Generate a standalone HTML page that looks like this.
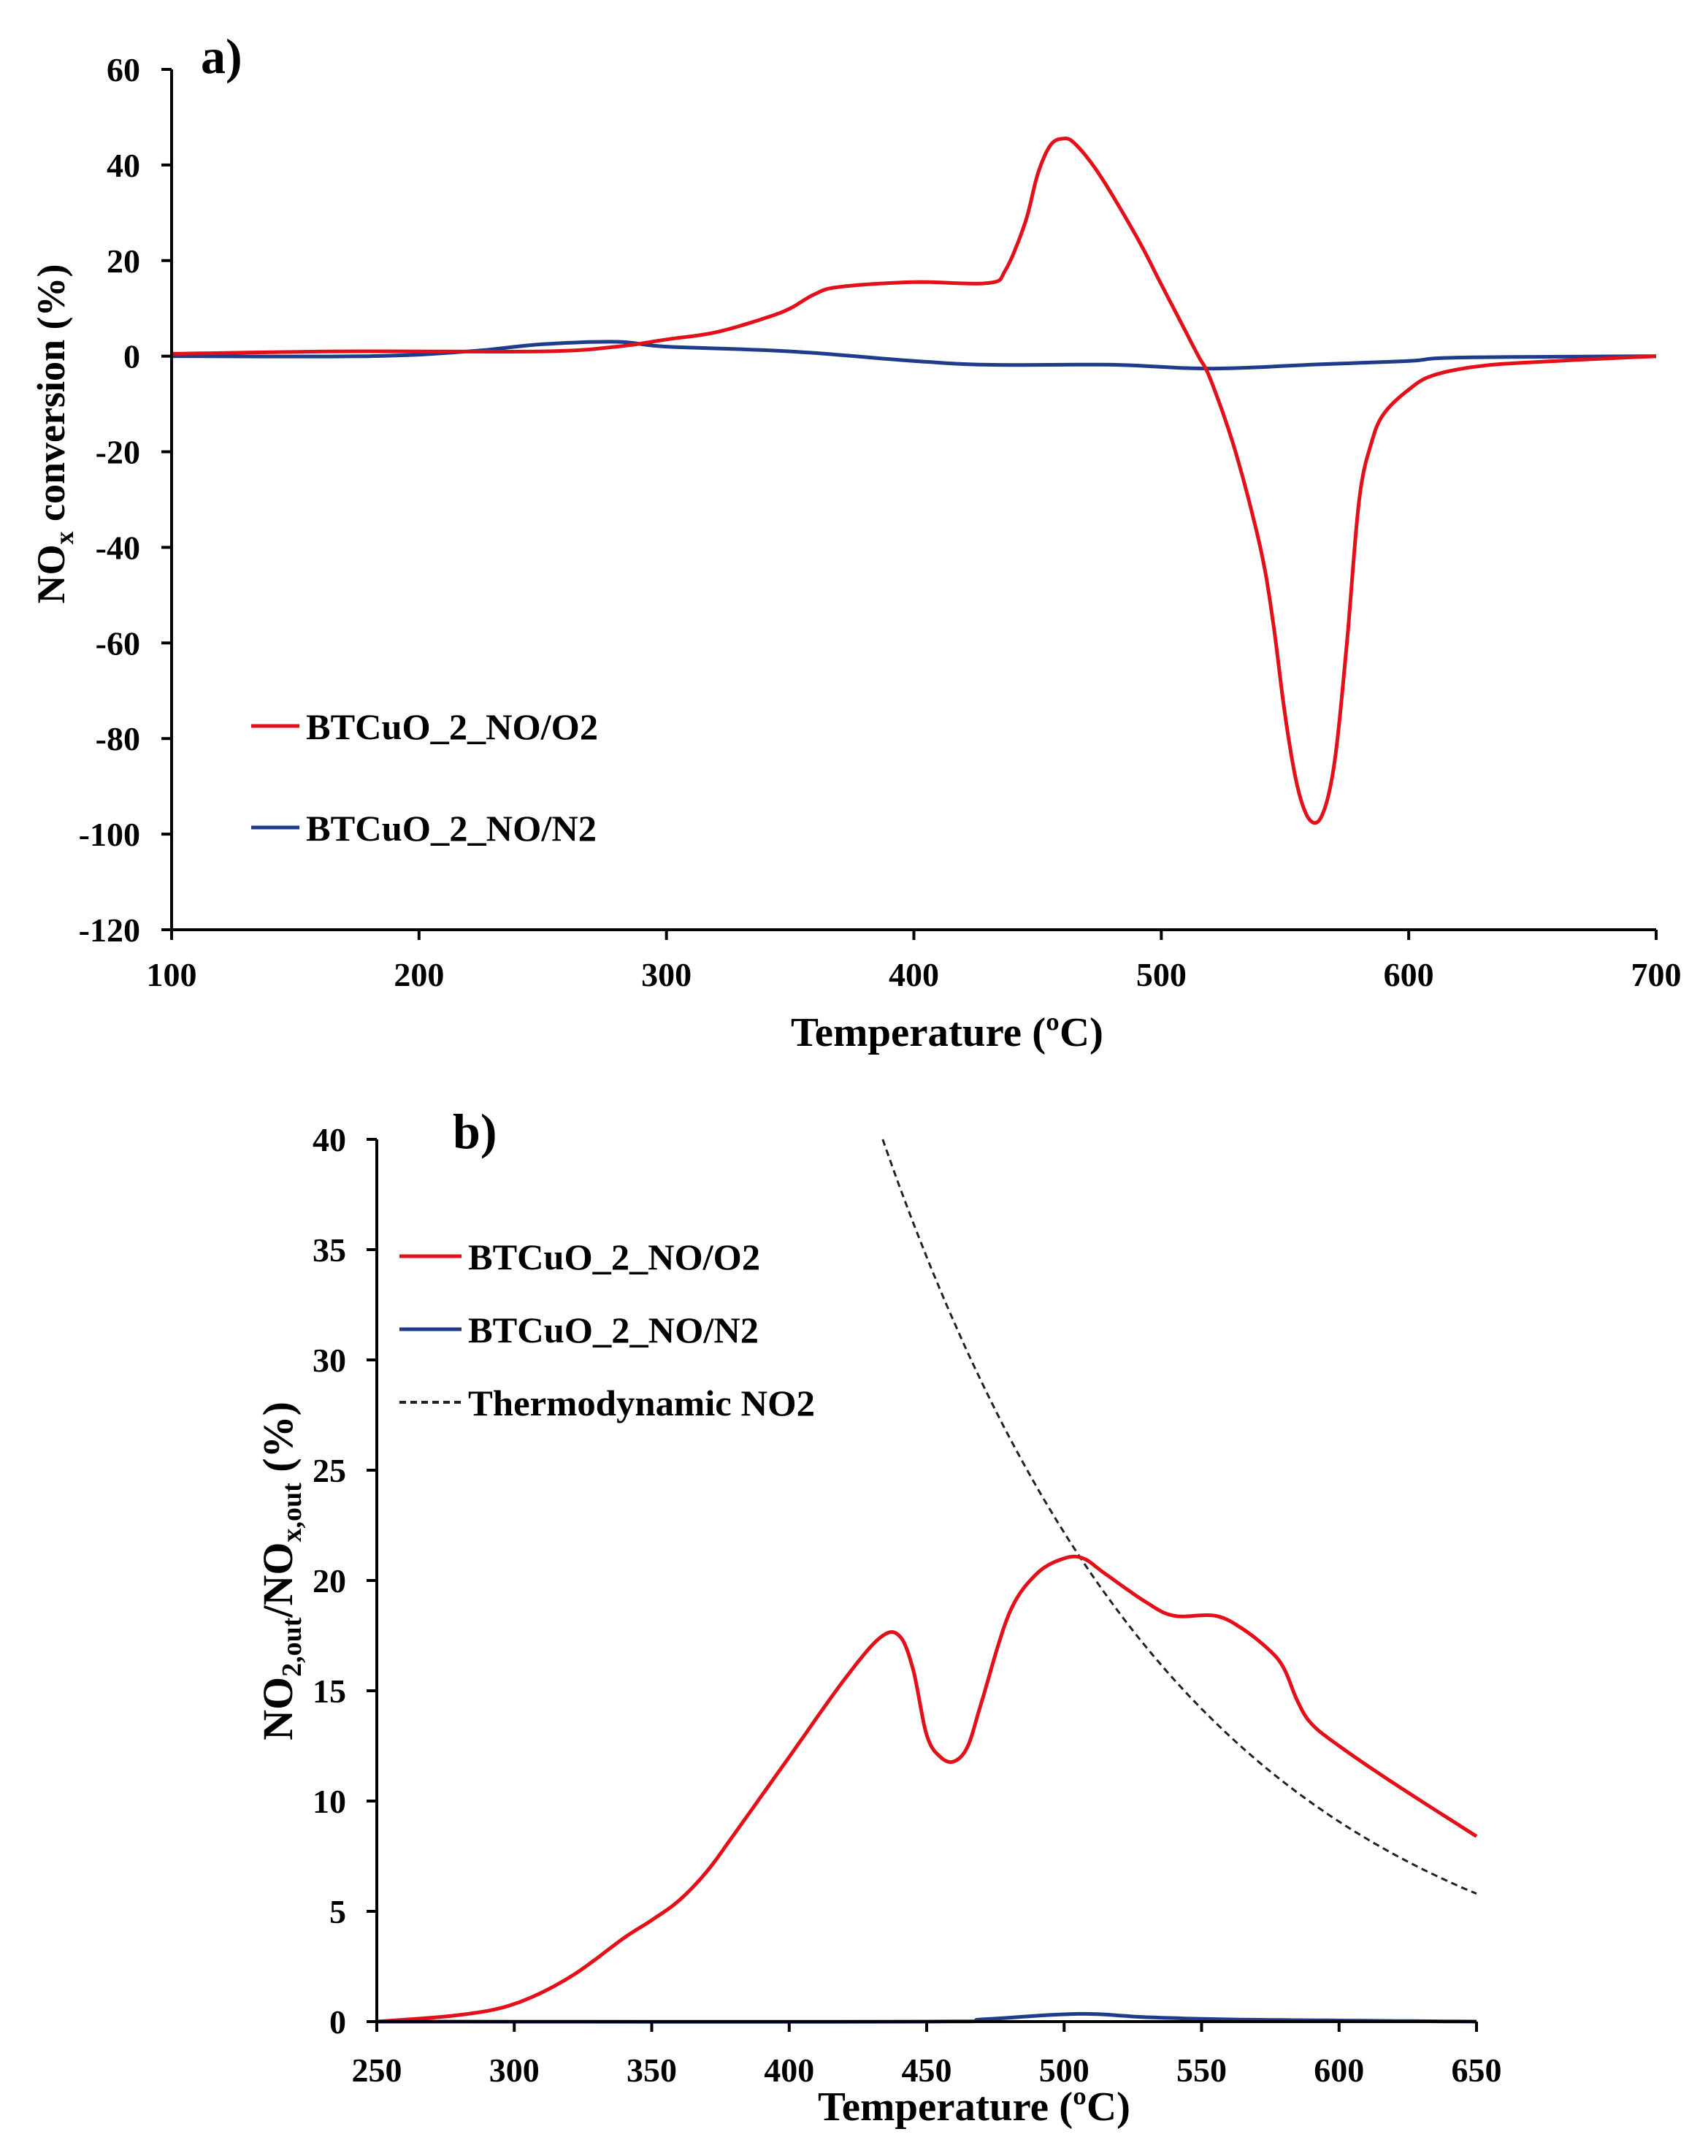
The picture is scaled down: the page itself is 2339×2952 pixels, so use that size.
<!DOCTYPE html>
<html><head><meta charset="utf-8"><style>html,body{margin:0;padding:0;background:#fff}svg{display:block}</style></head>
<body>
<svg id="s" width="2339" height="2952" viewBox="0 0 2339 2952" xmlns="http://www.w3.org/2000/svg" font-family="Liberation Serif, serif" font-weight="bold">
<rect width="2339" height="2952" fill="#fff"/>
<g id="ga"></g>
<g id="gb"></g>
<text x="275" y="100" font-size="68">a)</text>
<text x="1083" y="1432" font-size="56" textLength="428" lengthAdjust="spacingAndGlyphs">Temperature (ºC)</text>
<text transform="translate(88,594) rotate(-90)" font-size="54" text-anchor="middle">NO<tspan font-size="36" dy="12">x</tspan><tspan dy="-12"> conversion (%)</tspan></text>
<line x1="344" y1="994" x2="410" y2="994" stroke="#e3101a" stroke-width="5"/>
<text x="419" y="1012" font-size="50" textLength="400" lengthAdjust="spacingAndGlyphs">BTCuO_2_NO/O2</text>
<line x1="344" y1="1133" x2="410" y2="1133" stroke="#1f3c8a" stroke-width="5"/>
<text x="419" y="1151" font-size="50" textLength="398" lengthAdjust="spacingAndGlyphs">BTCuO_2_NO/N2</text>
<text x="620" y="1572" font-size="68">b)</text>
<text x="1120" y="2903" font-size="56" textLength="428" lengthAdjust="spacingAndGlyphs">Temperature (ºC)</text>
<text transform="translate(400,2151) rotate(-90)" font-size="58" text-anchor="middle">NO<tspan font-size="38" dy="12">2,out</tspan><tspan dy="-12">/NO</tspan><tspan font-size="38" dy="12">x,out</tspan><tspan dy="-12"> (%)</tspan></text>
<line x1="547" y1="1720" x2="632" y2="1720" stroke="#e3101a" stroke-width="5"/>
<text x="641" y="1738" font-size="50" textLength="400" lengthAdjust="spacingAndGlyphs">BTCuO_2_NO/O2</text>
<line x1="547" y1="1820" x2="632" y2="1820" stroke="#1f3c8a" stroke-width="5"/>
<text x="641" y="1838" font-size="50" textLength="398" lengthAdjust="spacingAndGlyphs">BTCuO_2_NO/N2</text>
<line x1="547" y1="1920" x2="632" y2="1920" stroke="#222" stroke-width="4" stroke-dasharray="9,6"/>
<text x="641" y="1938" font-size="50" textLength="475" lengthAdjust="spacingAndGlyphs">Thermodynamic NO2</text>
</svg>
<script>
var NS="http://www.w3.org/2000/svg";
function el(g,t,a,txt){var e=document.createElementNS(NS,t);for(var k in a)e.setAttribute(k,a[k]);if(txt!==undefined)e.textContent=txt;g.appendChild(e);return e;}
function interp(pts,step){var out=[];for(var i=0;i<pts.length-1;i++){var p0=pts[Math.max(0,i-1)],p1=pts[i],p2=pts[i+1],p3=pts[Math.min(pts.length-1,i+2)];
 for(var t=0;t<1;t+=step){var t2=t*t,t3=t2*t;
 var x=0.5*((2*p1[0])+(-p0[0]+p2[0])*t+(2*p0[0]-5*p1[0]+4*p2[0]-p3[0])*t2+(-p0[0]+3*p1[0]-3*p2[0]+p3[0])*t3);
 var y=0.5*((2*p1[1])+(-p0[1]+p2[1])*t+(2*p0[1]-5*p1[1]+4*p2[1]-p3[1])*t2+(-p0[1]+3*p1[1]-3*p2[1]+p3[1])*t3);
 out.push([x,y]);}}out.push(pts[pts.length-1]);return out;}
function chart(g,o){
 var X=function(v){return o.x0+(v-o.xmin)/(o.xmax-o.xmin)*(o.x1-o.x0)};
 var Y=function(v){return o.y0+(v-o.ymin)/(o.ymax-o.ymin)*(o.y1-o.y0)};
 o.series.forEach(function(s){var p=s.fn?s.pts:interp(s.pts,0.1);
  el(g,"polyline",{points:p.map(function(q){return X(q[0]).toFixed(1)+","+Y(q[1]).toFixed(1)}).join(" "),fill:"none",stroke:s.c,"stroke-width":s.w,"stroke-dasharray":s.d||"none","stroke-linejoin":"round"});});
 el(g,"line",{x1:o.x0,y1:o.y1,x2:o.x0,y2:o.y0,stroke:"#000","stroke-width":4});
 el(g,"line",{x1:o.x0,y1:Y(o.xaxisAt),x2:o.x1,y2:Y(o.xaxisAt),stroke:"#000","stroke-width":4});
 for(var v=o.ymin;v<=o.ymax+1e-9;v+=o.ystep){var y=Y(v);el(g,"line",{x1:o.x0-14,y1:y,x2:o.x0,y2:y,stroke:"#000","stroke-width":4});
  el(g,"text",{x:o.ylx,y:y+16,"font-size":46,"text-anchor":"end"},String(v));}
 for(var v=o.xmin;v<=o.xmax+1e-9;v+=o.xstep){var x=X(v);el(g,"line",{x1:x,y1:Y(o.xaxisAt),x2:x,y2:Y(o.xaxisAt)+14,stroke:"#000","stroke-width":4});
  el(g,"text",{x:x,y:o.xly,"font-size":46,"text-anchor":"middle"},String(v));}
}
var redA=[[100,0.5],[170,1],[250,1],[280,2],[300,3.5],[320,5],[340,8],[350,10],[360,13],[370,14.5],[400,15.5],[430,15.3],[437,18],[445,28],[450,38],[455,44],[460,45.5],[465,44.5],[475,38],[490,25],[500,15],[510,5],[515,0],[520,-5],[530,-20],[540,-40],[545,-55],[550,-75],[555,-90],[560,-97],[565,-96],[570,-85],[575,-60],[580,-30],[585,-18],[590,-12],[600,-7],[610,-4],[630,-2],[660,-1],[700,0]];
var blueA=[[100,0],[180,0],[220,1],[250,2.5],[280,3],[300,2],[350,1],[400,-1],[430,-1.8],[480,-1.8],[510,-2.5],[530,-2.5],[560,-1.8],[600,-1],[620,-0.3],[700,0]];
chart(document.getElementById("ga"),{x0:235,x1:2268,xmin:100,xmax:700,y0:1273,y1:95,ymin:-120,ymax:60,ystep:20,xstep:100,xaxisAt:-120,ylx:192,xly:1350,
 series:[{pts:blueA,c:"#1f3c8a",w:5},{pts:redA,c:"#e3101a",w:5}]});
var redB=[[250,0],[280,0.3],[300,0.8],[320,2],[340,3.8],[350,4.6],[360,5.5],[370,6.8],[380,8.5],[400,12],[420,15.5],[433,17.4],[440,17.5],[445,16],[450,13],[455,12],[460,11.8],[465,12.5],[470,14.5],[480,18.5],[490,20.3],[500,21],[507,21],[515,20.3],[530,19],[540,18.4],[555,18.4],[565,17.8],[575,16.8],[580,16],[585,14.5],[590,13.5],[600,12.5],[620,10.8],[650,8.4]];
var blueB=[[250,0],[450,0],[470,0.1],[505,0.35],[530,0.2],[560,0.1],[600,0.05],[650,0]];
var th=[];for(var t=434;t<=650;t+=2)th.push([t,40*Math.exp(-0.00894*(t-434))]);
chart(document.getElementById("gb"),{x0:516,x1:2022,xmin:250,xmax:650,y0:2768,y1:1560,ymin:0,ymax:40,ystep:5,xstep:50,xaxisAt:0,ylx:474,xly:2850,
 series:[{pts:th,c:"#222",w:3,d:"9,6",fn:1},{pts:redB,c:"#e3101a",w:5},{pts:blueB,c:"#1f3c8a",w:5}]});
</script>
</body></html>
